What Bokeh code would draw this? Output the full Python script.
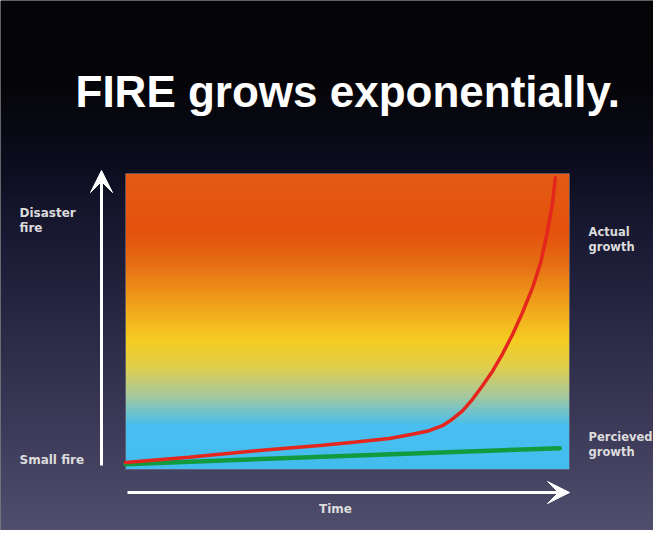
import numpy as np
from bokeh.plotting import figure
from bokeh.models import Range1d, Arrow, VeeHead
from bokeh.core.properties import value
from bokeh.embed import file_html
from bokeh.resources import INLINE

# ---------------- data ----------------
title_text = "FIRE grows exponentially."
time_actual = [0.0, 1.43, 2.94, 4.44, 5.19, 5.94, 6.46, 6.84, 7.14, 7.36, 7.59, 7.82,
               8.04, 8.27, 8.49, 8.72, 8.94, 9.17, 9.35, 9.50, 9.62, 9.68]
size_actual = [2.4, 4.1, 6.3, 8.2, 9.3, 10.5, 11.9, 13.1, 14.8, 17.0, 19.8, 23.8,
               28.3, 33.3, 39.0, 45.7, 53.0, 61.5, 69.9, 80.1, 90.2, 98.6]
time_perceived = [0.0, 4.44, 9.78]
size_perceived = [1.8, 4.3, 7.2]
y_labels = ["Disaster\nfire", "Small fire"]
series_labels = ["Actual\ngrowth", "Percieved\ngrowth"]
x_label = "Time"

X0, X1 = 0.0, 10.0      # time extent of the chart box
Y0, Y1 = 0.0, 100.0     # fire size extent of the chart box

# ---------------- layout (page pixels of the reference) ----------------
W, H = 653, 530
PAGE_L, PAGE_T = 8, 8
BOX_L, BOX_R, BOX_T, BOX_B = 133, 577, 181, 477

def px_x(px):
    return X0 + (px - BOX_L) / (BOX_R - BOX_L) * (X1 - X0)

def px_y(py):
    return Y0 + (BOX_B - py) / (BOX_B - BOX_T) * (Y1 - Y0)

p = figure(width=W, height=H, output_backend="svg", toolbar_location=None,
           x_axis_location=None, y_axis_location=None,
           x_range=Range1d(px_x(PAGE_L), px_x(PAGE_L + W)),
           y_range=Range1d(px_y(PAGE_T + H), px_y(PAGE_T)),
           min_border=0, outline_line_color=None)
p.grid.visible = False
p.border_fill_color = "#07070a"
p.background_fill_color = "#07070a"

def hex2rgb(h):
    h = h.lstrip("#")
    return [int(h[i:i + 2], 16) for i in (0, 2, 4)]

def gradient_image(n_rows, stops, n_cols=4):
    # stops: list of (fraction from top, hex colour); returns rgba uint32 image, row 0 = bottom
    fr = np.array([s[0] for s in stops])
    cols = np.array([hex2rgb(s[1]) for s in stops], dtype=float)
    img = np.empty((n_rows, n_cols), dtype=np.uint32)
    view = img.view(dtype=np.uint8).reshape((n_rows, n_cols, 4))
    for i in range(n_rows):
        f = 1.0 - (i + 0.5) / n_rows
        rgb = [np.interp(f, fr, cols[:, k]) for k in range(3)]
        view[i, :, 0] = int(rgb[0])
        view[i, :, 1] = int(rgb[1])
        view[i, :, 2] = int(rgb[2])
        view[i, :, 3] = 255
    return img

# dark slide background
bg_stops = [(0.0, "#050507"), (0.17, "#06060a"), (0.30, "#0c0c1e"), (0.45, "#1a1a34"),
            (0.64, "#2c2b48"), (0.82, "#3e3c5a"), (1.0, "#514f6e")]
bg = gradient_image(H, bg_stops)
p.image_rgba(image=[bg], x=px_x(PAGE_L), y=px_y(PAGE_T + H),
             dw=px_x(PAGE_L + W) - px_x(PAGE_L), dh=px_y(PAGE_T) - px_y(PAGE_T + H))

# fire-coloured chart box
box_stops = [(0.0, "#e45a14"), (0.2, "#e4520e"), (0.3, "#e66c14"), (0.42, "#ef9a1a"),
             (0.56, "#f6cc22"), (0.65, "#e2cf4a"), (0.75, "#a8c89e"), (0.85, "#48bff0"),
             (1.0, "#44bdee")]
box = gradient_image(BOX_B - BOX_T, box_stops)
p.image_rgba(image=[box], x=X0, y=Y0, dw=X1 - X0, dh=Y1 - Y0)
p.quad(left=[X0], right=[X1], bottom=[Y0], top=[Y1], fill_color=None,
       line_color="#5c5c6c", line_width=1, line_alpha=0.8)

# series
p.line(time_perceived, size_perceived, line_color="#119b3e", line_width=4.5, line_cap="round")
p.line(time_actual, size_actual, line_color="#e4261c", line_width=3.5, line_cap="round")

# axis arrows
p.add_layout(Arrow(end=VeeHead(size=22, fill_color="white", line_color="white"),
                   x_start=px_x(109), y_start=px_y(473), x_end=px_x(109), y_end=px_y(178),
                   line_color="white", line_width=3))
p.add_layout(Arrow(end=VeeHead(size=22, fill_color="white", line_color="white"),
                   x_start=px_x(135), y_start=px_y(500), x_end=px_x(577), y_end=px_y(500),
                   line_color="white", line_width=3))

# texts
p.text(x=[px_x(83)], y=[px_y(99)], text=[title_text], text_color="white",
       text_font=value("Liberation Sans"), text_font_style="bold", text_font_size="44px",
       text_align="left", text_baseline="alphabetic")

def multiline(lbl, xpx, ypx, align="left", lh=15.5, size="12px"):
    lines = lbl.split("\n")
    p.text(x=[px_x(xpx)] * len(lines), y=[px_y(ypx + i * lh) for i in range(len(lines))],
           text=lines, text_align=align, text_color="#dcdcdc",
           text_font=value("DejaVu Sans"), text_font_style="bold",
           text_font_size=size, text_baseline="alphabetic")

multiline(y_labels[0], 27, 220)
multiline(y_labels[1], 27, 467)
multiline(series_labels[0], 596, 239, size="11.5px")
multiline(series_labels[1], 596, 444, size="11.5px")
multiline(x_label, 343, 516, align="center")

open("out.html", "w").write(file_html(p, INLINE))
